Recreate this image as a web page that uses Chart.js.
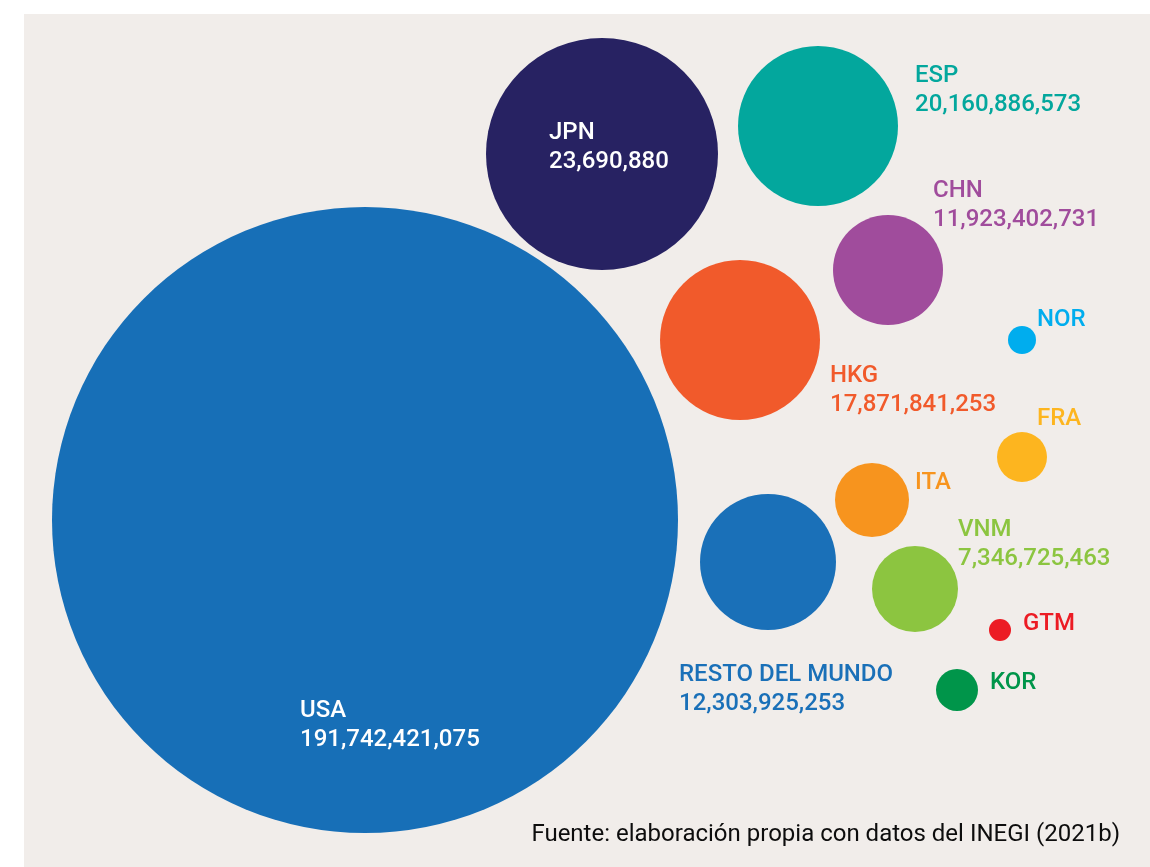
<!DOCTYPE html>
<html>
<head>
<meta charset="utf-8">
<script src="https://cdn.jsdelivr.net/npm/chart.js@4"></script>
<style>
  html, body { margin: 0; padding: 0; background: #ffffff; }
  #panel { position: absolute; left: 24px; top: 14px; width: 1126px; height: 853px; background: #f1edea; }
  #wrap { position: absolute; left: 0; top: 0; width: 1150px; height: 867px; }
</style>
</head>
<body>
<div id="panel"></div>
<div id="wrap"><canvas id="chart1" width="1150" height="867"></canvas></div>
<script>
// data
const countries = ['USA', 'JPN', 'ESP', 'CHN', 'HKG', 'NOR', 'FRA', 'ITA', 'RESTO DEL MUNDO', 'VNM', 'GTM', 'KOR'];
const valueLabels = ['191,742,421,075', '23,690,880', '20,160,886,573', '11,923,402,731', '17,871,841,253',
    '', '', '', '12,303,925,253', '7,346,725,463', '', ''];

// bubble placement (scale units = page pixels) and radius
const bubbleX = [365, 602, 818, 888, 740, 1022, 1022, 872, 768, 915, 1000, 957];
const bubbleY = [520, 154, 126, 270, 340, 340, 457, 500, 562, 589, 630, 690];
const bubbleR = [313, 116, 80, 55, 80, 14, 25, 37, 68, 43, 11, 21];

// label placement: left x, baseline of first line
const labelX = [300, 549, 915, 933, 830, 1037, 1037, 915, 679, 958, 1023, 990];
const labelY = [717, 139, 82, 197, 382, 326, 425, 489, 681, 536, 630, 689];

const colors = ['#176fb7', '#272262', '#03a79d', '#a04c9c', '#f15a2b', '#00adee',
    '#fdb51f', '#f7941e', '#1a70b8', '#8cc540', '#ec1c24', '#00954a'];
const textColors = ['#ffffff', '#ffffff', '#03a79d', '#a04c9c', '#f15a2b', '#00adee',
    '#fdb51f', '#f7941e', '#1a70b8', '#8cc540', '#ec1c24', '#00954a'];

const sourceText = 'Fuente: elaboración propia con datos del INEGI (2021b)';

// big bubbles would otherwise shrink the chart area by their radius
Chart.registry.getController('bubble').prototype.getMaxOverflow = function() { return 0; };

const labelPlugin = {
    id: 'bubbleLabels',
    afterDatasetsDraw(chart) {
        const ctx = chart.ctx;
        const xs = chart.scales.x;
        const ys = chart.scales.y;
        ctx.save();
        ctx.textBaseline = 'alphabetic';
        ctx.textAlign = 'left';
        ctx.font = '500 24px Roboto';
        countries.forEach((name, i) => {
            const px = xs.getPixelForValue(labelX[i]);
            const py = ys.getPixelForValue(labelY[i]);
            ctx.fillStyle = textColors[i];
            ctx.fillText(name, px, py);
            if (valueLabels[i]) ctx.fillText(valueLabels[i], px, py + 29);
        });
        ctx.font = '400 24px Roboto';
        ctx.fillStyle = '#0d0d0d';
        ctx.textAlign = 'right';
        ctx.fillText(sourceText, xs.getPixelForValue(1120), ys.getPixelForValue(841));
        ctx.restore();
    }
};

const ctx = document.getElementById('chart1').getContext('2d');
new Chart(ctx, {
    type: 'bubble',
    data: {
        datasets: [{
            data: countries.map((c, i) => ({ x: bubbleX[i], y: bubbleY[i], r: bubbleR[i] })),
            backgroundColor: colors,
            borderWidth: 0,
            hoverBorderWidth: 0,
            hoverRadius: 0,
            clip: false
        }]
    },
    options: {
        responsive: false,
        animation: false,
        events: [],
        layout: { padding: 0 },
        plugins: {
            legend: { display: false },
            tooltip: { enabled: false }
        },
        scales: {
            x: { type: 'linear', min: 0, max: 1150, display: false },
            y: { type: 'linear', min: 0, max: 867, reverse: true, display: false }
        }
    },
    plugins: [labelPlugin]
});
</script>
</body>
</html>
